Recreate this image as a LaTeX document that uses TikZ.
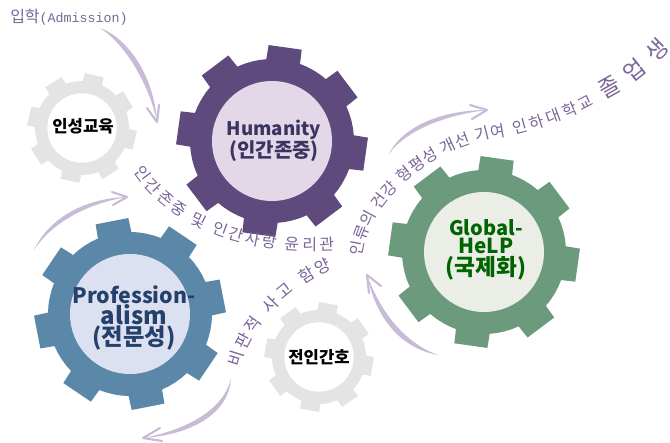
\documentclass[tikz,border=0pt]{standalone}
\usepackage{fontspec}
\usetikzlibrary{decorations.text}
\newfontfamily\kor{Noto Sans CJK KR}
\newfontfamily\monolat{Liberation Mono}
\definecolor{hgear}{HTML}{5F4A7E}
\definecolor{hinner}{HTML}{E3D8E8}
\definecolor{htxt}{HTML}{3A3560}
\definecolor{pgear}{HTML}{5B88A8}
\definecolor{pinner}{HTML}{DCE1F1}
\definecolor{ptxt}{HTML}{24406B}
\definecolor{ggear}{HTML}{6C9A7C}
\definecolor{ginner}{HTML}{EAEEE6}
\definecolor{gtxt}{HTML}{006400}
\definecolor{graygear}{HTML}{E4E4E4}
\definecolor{arrowc}{HTML}{C7BBD6}
\definecolor{ptext}{HTML}{7A6598}
\newcommand\fs[1]{\fontsize{#1}{16.5}\selectfont}
% #1 centre, #2 body radius px, #3 tip radius px, #4 first tooth angle, #5 colour
\newcommand\gearshape[5]{%
  \pgfmathsetmacro\rb{#2*0.75}\pgfmathsetmacro\ro{#3*0.75}%
  \begin{scope}[shift={(#1)}]
  \fill[#5] ({#4-12}:\rb pt)
    \foreach \k [evaluate=\k as \a using #4+45*\k] in {0,...,7}{
      -- ({\a-12}:\rb pt) -- ({\a-10}:\ro pt) -- ({\a+10}:\ro pt) -- ({\a+12}:\rb pt)
      -- ({\a+17}:\rb pt) -- ({\a+22.5}:\rb pt) -- ({\a+28}:\rb pt)
    } -- cycle;
  \end{scope}}
% #1 tail, #2,#3 outer controls, #4,#5 inner controls, #6 tip, #7,#8 wings
\newcommand\taperarrow[8]{%
  \fill[arrowc] (#1) .. controls (#2) and (#3) .. (#6) .. controls (#5) and (#4) .. (#1) -- cycle;
  \draw[arrowc,line width=1.6pt,line join=round,line cap=round] (#7) -- (#6) -- (#8);}
\tikzset{
  hublabel/.style={inner sep=0pt,align=center,font=\kor\bfseries},
  graylabel/.style={inner sep=0pt,font=\kor\bfseries\fontsize{12.5}{13}\selectfont,text=black},
  wordtext/.style 2 args={decorate,decoration={text along path,text align={fit to path},raise=#1,text format delimiters={|}{|},text={#2}}}
}
\begin{document}
\begin{tikzpicture}[x=0.75pt,y=-0.75pt]
\useasboundingbox (0,0) rectangle (670,442);
\coordinate (hc) at (272,141);
\coordinate (pc) at (130,314);
\coordinate (gc) at (484,252);
\coordinate (ac) at (82,128);
\coordinate (bc) at (319,357);
\gearshape{ac}{47}{55}{32}{graygear}
\fill[white] (ac) circle (26pt);
\gearshape{bc}{47}{55}{35}{graygear}
\fill[white] (bc) circle (26pt);
\gearshape{hc}{82}{96}{37}{hgear}
\gearshape{pc}{82}{96}{11}{pgear}
\gearshape{gc}{82}{96}{37}{ggear}
\fill[hinner] (hc) circle (45pt);
\fill[pinner] (pc) circle (45pt);
\fill[ginner] (gc) circle (45pt);
\node[hublabel,text=htxt] (humanity) at (274,141) {\fs{14}Humanity\\\fs{15}(인간존중)};
\node[hublabel,text=ptxt] (prof) at (134,318) {\fs{16}Profession-\\\fs{18}alism\\\fs{17.5}(전문성)};
\node[hublabel,text=gtxt] (global) at (486,250) {\fs{15}Global-\\[1pt]\fs{15.5}HeLP\\[1pt]\fs{17}(국제화)};
\node[graylabel] (insung) at (83,126) {인성교육};
\node[graylabel] (junin) at (319,357) {전인간호};
\node[inner sep=0pt,anchor=west,text=ptext] (admit) at (10,17) {\kor\fontsize{12}{13}\selectfont 입학\monolat\fontsize{10}{13}\selectfont (Admission)};
% arrows
\coordinate (a1t) at (100,28); \coordinate (a1h) at (157,122);
\coordinate (a1w) at (147,108); \coordinate (a1v) at (159,105);
\taperarrow{a1t}{128,38}{154,76}{124,43}{149,83}{a1h}{a1w}{a1v}
\coordinate (a2t) at (34,250); \coordinate (a2h) at (127,197);
\coordinate (a2w) at (112,192); \coordinate (a2v) at (113,205);
\taperarrow{a2t}{50,216}{88,198}{53,221}{90,203}{a2h}{a2w}{a2v}
\coordinate (a3t) at (231,378); \coordinate (a3h) at (143,438);
\coordinate (a3w) at (160,428); \coordinate (a3v) at (162,441);
\taperarrow{a3t}{224,410}{186,430}{229,415}{189,435}{a3h}{a3w}{a3v}
\coordinate (a4t) at (438,355); \coordinate (a4h) at (367,275);
\coordinate (a4w) at (381,286); \coordinate (a4v) at (369,293);
\taperarrow{a4t}{400,348}{376,318}{405,343}{381,313}{a4h}{a4w}{a4v}
\coordinate (a5t) at (389,154); \coordinate (a5h) at (487,110);
\coordinate (a5w) at (470,105); \coordinate (a5v) at (472,119);
\taperarrow{a5t}{404,124}{446,110}{407,129}{447,115}{a5h}{a5w}{a5v}
% curved texts
\path[wordtext={-4.5pt}{|\kor\fontsize{12}{12}\selectfont\color{ptext}|인간존중 및 인간사랑 윤리관}]
  (138,168) .. controls (165,208) and (225,250) .. (334,244);
\path[wordtext={-4.5pt}{|\kor\fontsize{12.5}{12}\selectfont\color{ptext}|비판적 사고 함양}]
  (234,366) .. controls (243,325) and (285,283) .. (330,263);
\path[wordtext={-4.5pt}{|\kor\fontsize{12}{12}\selectfont\color{ptext}|인류의 건강 형평성 개선 기여}]
  (356,255) .. controls (362,200) and (425,140) .. (505,130);
\path[wordtext={-4.5pt}{|\kor\fontsize{12}{12}\selectfont\color{ptext}|인하대학교}]
  (513,129) .. controls (530,125) and (570,112) .. (592,99);
\path[wordtext={-6.5pt}{|\kor\fontsize{17}{18}\selectfont\color{ptext}|졸업생}]
  (600,92) .. controls (618,84) and (642,66) .. (664,43);
\end{tikzpicture}
\end{document}
